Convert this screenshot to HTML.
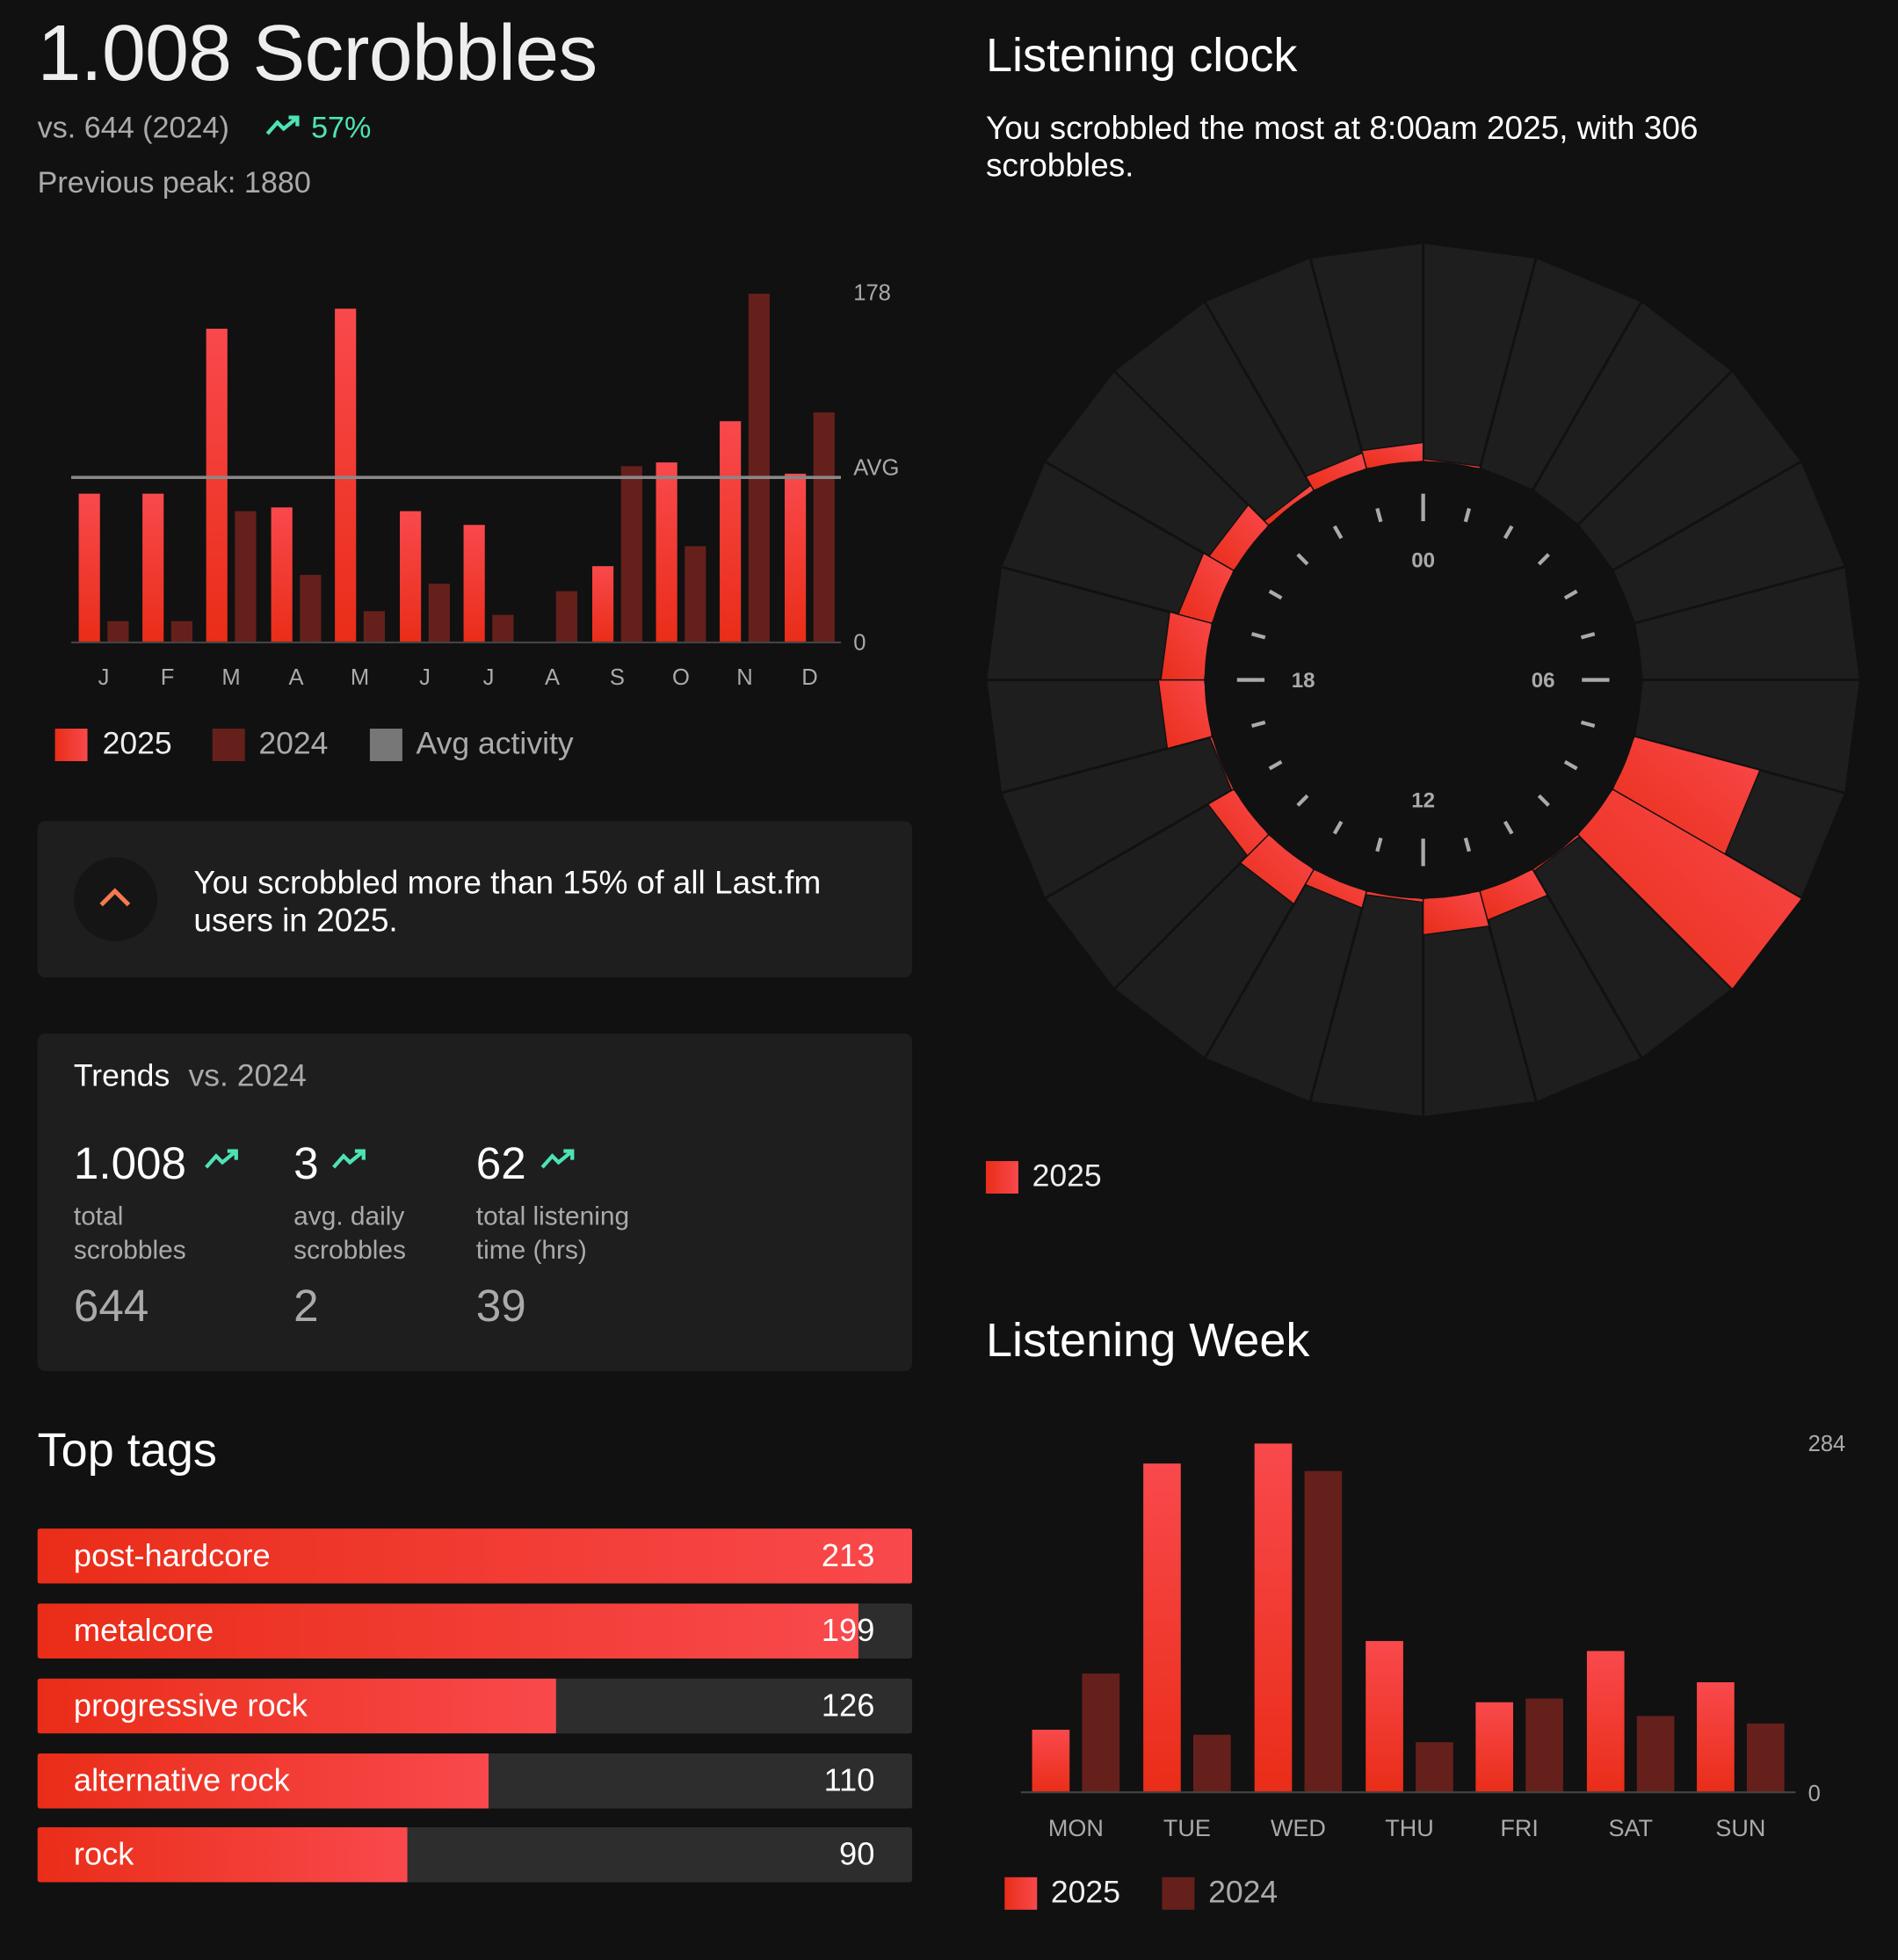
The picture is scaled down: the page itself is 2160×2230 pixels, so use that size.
<!DOCTYPE html>
<html><head><meta charset="utf-8">
<style>
*{margin:0;padding:0;box-sizing:border-box}
html,body{width:2160px;height:2230px;background:#111;overflow:hidden}
#w{position:absolute;left:0;top:0;width:1519px;height:1568px;transform:scale(1.42199);transform-origin:0 0;font-family:"Liberation Sans",sans-serif;color:#eee}
.a{position:absolute;white-space:nowrap}
.g{color:#aaa}
.grad{background:linear-gradient(90deg,#e92d18,#f9494c)}
.sq{position:absolute;width:26px;height:26px}
.card{position:absolute;background:#1e1e1e;border-radius:6px}
.tag{position:absolute;left:30px;width:700px;height:44px;background:#2d2d2d;border-radius:2px;overflow:hidden}
.tag .f{position:absolute;left:0;top:0;height:44px}
.tag span{position:absolute;top:8px;font-size:25.5px;color:#fff}
</style></head><body><div id="w">
<div class="a" style="left:30px;top:7px;font-size:63px;color:#eee;letter-spacing:-0.5px">1.008 Scrobbles</div>
<div class="a g" style="left:30px;top:89px;font-size:24px">vs. 644 (2024)</div>
<svg class="a" style="left:212px;top:91px" width="30" height="20"><polyline points="2,16 10,7 15,12 26,3" fill="none" stroke="#4de3b4" stroke-width="3"/><polyline points="19,3 26,3 26,10" fill="none" stroke="#4de3b4" stroke-width="3"/></svg>
<div class="a" style="left:249px;top:89px;font-size:24px;color:#4de3b4">57%</div>
<div class="a g" style="left:30px;top:133px;font-size:24px">Previous peak: 1880</div>

<svg class="a" style="left:0;top:200px" width="760" height="360" id="mc"></svg>
<div class="sq grad" style="left:44px;top:583px"></div><div class="a" style="left:82px;top:581px;font-size:25px">2025</div>
<div class="sq" style="left:170px;top:583px;background:#66201c"></div><div class="a g" style="left:207px;top:581px;font-size:25px">2024</div>
<div class="sq" style="left:296px;top:583px;background:#777"></div><div class="a g" style="left:333px;top:581px;font-size:25px">Avg activity</div>

<div class="card" style="left:30px;top:657px;width:700px;height:125px"></div>
<div class="a" style="left:59px;top:686px;width:67px;height:67px;border-radius:50%;background:#151515"></div>
<svg class="a" style="left:78px;top:708px" width="30" height="20"><polyline points="3,16 14,5 25,16" fill="none" stroke="#f47a4f" stroke-width="3.5"/></svg>
<div class="a" style="left:155px;top:691px;font-size:26px;line-height:30px;color:#fff">You scrobbled more than 15% of all Last.fm<br>users in 2025.</div>

<div class="card" style="left:30px;top:827px;width:700px;height:270px"></div>
<div class="a" style="left:59px;top:847px;font-size:25px;color:#fff">Trends <span class="g" style="margin-left:8px">vs. 2024</span></div>
<div class="a" style="left:59px;top:910px;font-size:36px;color:#fff">1.008</div>
<div class="a" style="left:235px;top:910px;font-size:36px;color:#fff">3</div>
<div class="a" style="left:381px;top:910px;font-size:36px;color:#fff">62</div>
<svg class="a" style="left:163px;top:918px" width="30" height="20"><polyline points="2,16 10,7 15,12 26,3" fill="none" stroke="#4de3b4" stroke-width="3"/><polyline points="19,3 26,3 26,10" fill="none" stroke="#4de3b4" stroke-width="3"/></svg>
<svg class="a" style="left:265px;top:918px" width="30" height="20"><polyline points="2,16 10,7 15,12 26,3" fill="none" stroke="#4de3b4" stroke-width="3"/><polyline points="19,3 26,3 26,10" fill="none" stroke="#4de3b4" stroke-width="3"/></svg>
<svg class="a" style="left:432px;top:918px" width="30" height="20"><polyline points="2,16 10,7 15,12 26,3" fill="none" stroke="#4de3b4" stroke-width="3"/><polyline points="19,3 26,3 26,10" fill="none" stroke="#4de3b4" stroke-width="3"/></svg>
<div class="a g" style="left:59px;top:960px;font-size:21px;line-height:27px">total<br>scrobbles</div>
<div class="a g" style="left:235px;top:960px;font-size:21px;line-height:27px">avg. daily<br>scrobbles</div>
<div class="a g" style="left:381px;top:960px;font-size:21px;line-height:27px">total listening<br>time (hrs)</div>
<div class="a g" style="left:59px;top:1024px;font-size:36px">644</div>
<div class="a g" style="left:235px;top:1024px;font-size:36px">2</div>
<div class="a g" style="left:381px;top:1024px;font-size:36px">39</div>

<div class="a" style="left:30px;top:1140px;font-size:38px;color:#fff">Top tags</div>
<div class="tag" style="top:1223px"><div class="f grad" style="width:700px"></div><span style="left:29px">post-hardcore</span><span style="right:30px">213</span></div>
<div class="tag" style="top:1283px"><div class="f grad" style="width:657px"></div><span style="left:29px">metalcore</span><span style="right:30px">199</span></div>
<div class="tag" style="top:1343px"><div class="f grad" style="width:415px"></div><span style="left:29px">progressive rock</span><span style="right:30px">126</span></div>
<div class="tag" style="top:1403px"><div class="f grad" style="width:361px"></div><span style="left:29px">alternative rock</span><span style="right:30px">110</span></div>
<div class="tag" style="top:1462px"><div class="f grad" style="width:296px"></div><span style="left:29px">rock</span><span style="right:30px">90</span></div>

<div class="a" style="left:789px;top:24px;font-size:38px;color:#fff">Listening clock</div>
<div class="a" style="left:789px;top:87px;font-size:26px;line-height:30px;color:#fff">You scrobbled the most at 8:00am 2025, with 306<br>scrobbles.</div>
<svg class="a" style="left:0;top:0" width="1519" height="1568" id="clk"></svg>
<div class="sq grad" style="left:789px;top:929px"></div><div class="a" style="left:826px;top:927px;font-size:25px">2025</div>

<div class="a" style="left:789px;top:1052px;font-size:38px;color:#fff">Listening Week</div>
<svg class="a" style="left:0;top:0" width="1519" height="1568" id="wk"></svg>
<div class="sq grad" style="left:804px;top:1502px"></div><div class="a" style="left:841px;top:1500px;font-size:25px">2025</div>
<div class="sq" style="left:930px;top:1502px;background:#66201c"></div><div class="a g" style="left:967px;top:1500px;font-size:25px">2024</div>
</div>
<script>
var NS="http://www.w3.org/2000/svg";
function el(p,t,a,txt){var e=document.createElementNS(NS,t);for(var k in a)e.setAttribute(k,a[k]);if(txt!=null)e.textContent=txt;p.appendChild(e);return e;}
var defs='<defs><linearGradient id="gr" x1="0" y1="1" x2="1" y2="0"><stop offset="0" stop-color="#e92d18"/><stop offset="1" stop-color="#f9494c"/></linearGradient><linearGradient id="gv" x1="0" y1="1" x2="0" y2="0"><stop offset="0" stop-color="#e92d18"/><stop offset="1" stop-color="#f9494c"/></linearGradient></defs>';
var mc=document.getElementById('mc');mc.innerHTML=defs;var oy=200;
var L=['J','F','M','A','M','J','J','A','S','O','N','D'],cx=[83,134,185,237,288,340,391,442,494,545,596,648];
var t25=[395,395,263,406,247,409,420,514,453,370,337,379],t24=[497,497,409,460,489,467,492,473,373,437,235,330];
for(var i=0;i<12;i++){
 if(t25[i]<514)el(mc,'rect',{x:cx[i]-20,y:t25[i]-oy,width:17,height:514-t25[i],fill:'url(#gv)'});
 el(mc,'rect',{x:cx[i]+3,y:t24[i]-oy,width:17,height:514-t24[i],fill:'#66201c'});
 el(mc,'text',{x:cx[i],y:548-oy,'text-anchor':'middle','font-size':18,fill:'#aaa','font-family':'Liberation Sans'},L[i]);
}
el(mc,'line',{x1:57,x2:673,y1:514-oy,y2:514-oy,stroke:'#444','stroke-width':1.5});
el(mc,'line',{x1:57,x2:673,y1:382-oy,y2:382-oy,stroke:'#888','stroke-width':2.5});
[['178',233],['AVG',373],['0',513]].forEach(function(a){el(mc,'text',{x:683,y:a[1]+7-oy,'font-size':18,fill:'#aaa','font-family':'Liberation Sans'},a[0]);});
var c=document.getElementById('clk');c.innerHTML=defs;var X=1139,Y=544,RI=175,RO=350;
var R=[177,175,175,175,175,175,175,279,350,177,199,204,178,189,207,199,177,212,210,203,198,180,188,190];
function pt(r,d){var a=d*Math.PI/180;return (X+r*Math.sin(a)).toFixed(1)+','+(Y-r*Math.cos(a)).toFixed(1);}
for(var h=0;h<24;h++){var a0=h*15,a1=a0+15;
 el(c,'polygon',{points:[pt(RO,a0),pt(RO,a1),pt(RI,a1),pt(RI,a0)].join(' '),fill:'#1e1e1e',stroke:'#111','stroke-width':2});}
for(var h=0;h<24;h++){var a0=h*15,a1=a0+15;
 if(R[h]>RI+0.5)el(c,'polygon',{points:[pt(R[h],a0),pt(R[h],a1),pt(RI,a1),pt(RI,a0)].join(' '),fill:'url(#gr)',stroke:'#111','stroke-width':1});}
el(c,'circle',{cx:X,cy:Y,r:RI,fill:'#111'});
for(var k=0;k<24;k++){var d=k*15,lg=(k%6==0);var r0=lg?127:131,r1=lg?149:142;
 var p0=pt(r0,d).split(','),p1=pt(r1,d).split(',');
 el(c,'line',{x1:p0[0],y1:p0[1],x2:p1[0],y2:p1[1],stroke:'#aaa','stroke-width':3});}
[['00',0],['06',90],['12',180],['18',270]].forEach(function(a){var p=pt(96,a[1]).split(',');el(c,'text',{x:p[0],y:+p[1]+6,'text-anchor':'middle','font-size':17,'font-weight':'bold',fill:'#aaa','font-family':'Liberation Sans'},a[0]);});
var w=document.getElementById('wk');w.innerHTML=defs;
var D=['MON','TUE','WED','THU','FRI','SAT','SUN'],x25=[826,915,1004,1093,1181,1270,1358];
var w25=[1384,1171,1155,1313,1362,1321,1346],w24=[1339,1388,1177,1394,1359,1373,1379];
for(var i=0;i<7;i++){
 el(w,'rect',{x:x25[i],y:w25[i],width:30,height:1434-w25[i],fill:'url(#gv)'});
 el(w,'rect',{x:x25[i]+40,y:w24[i],width:30,height:1434-w24[i],fill:'#66201c'});
 el(w,'text',{x:x25[i]+35,y:1469,'text-anchor':'middle','font-size':19,fill:'#aaa','font-family':'Liberation Sans'},D[i]);
}
el(w,'line',{x1:817,x2:1437,y1:1434,y2:1434,stroke:'#444','stroke-width':1.5});
el(w,'text',{x:1447,y:1161,'font-size':18,fill:'#aaa','font-family':'Liberation Sans'},'284');
el(w,'text',{x:1447,y:1441,'font-size':18,fill:'#aaa','font-family':'Liberation Sans'},'0');
</script>
</body></html>
